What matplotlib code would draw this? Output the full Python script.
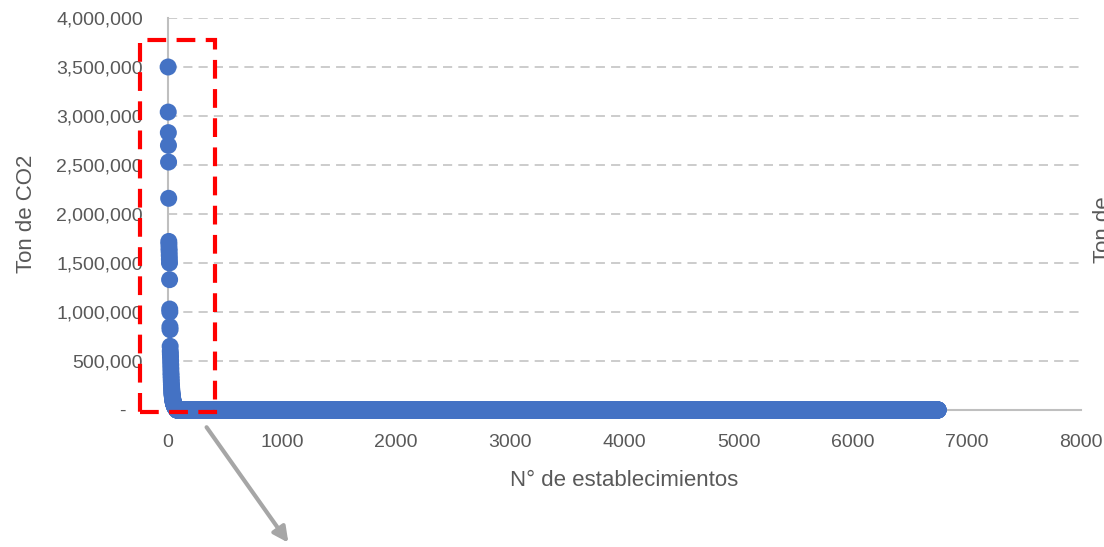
import matplotlib
matplotlib.use("Agg")
import matplotlib.pyplot as plt
from matplotlib.ticker import FuncFormatter
from matplotlib.patches import Rectangle

plt.rcParams['font.family'] = ['Liberation Sans', 'DejaVu Sans']

# emisiones (ton CO2) de los establecimientos mayores, ordenadas de mayor a menor
emisiones_top = [
    3500000, 3040000, 2830000, 2700000, 2530000, 2160000,
    1720000, 1690000, 1650000, 1620000, 1580000, 1540000, 1500000,
    1330000, 1030000, 1000000, 850000, 820000,
    650000, 600000, 570000, 540000, 500000, 460000, 420000, 380000,
    350000, 320000, 290000, 260000, 240000, 220000, 200000, 185000,
    170000, 160000, 150000, 140000, 130000, 120000, 112000, 105000,
    98000, 92000, 86000, 80000, 75000, 70000, 66000, 62000, 58000,
    55000, 52000, 49000, 46000, 43000, 40000, 38000, 36000, 34000,
    32000, 30000, 28000, 26000, 24000, 22000, 20000, 18000, 16000,
    15000, 14000, 13000, 12000, 11000, 10000,
]
# total de establecimientos; el resto se lee como ~0 en esta escala
n_establecimientos = 6750
emisiones = emisiones_top + [0] * (n_establecimientos - len(emisiones_top))
establecimiento = list(range(1, n_establecimientos + 1))

xticks = [0, 1000, 2000, 3000, 4000, 5000, 6000, 7000, 8000]
yticks = [0, 500000, 1000000, 1500000, 2000000, 2500000, 3000000, 3500000, 4000000]

gris_txt = "#595959"
gris_lin = "#BFBFBF"
azul = "#4472C4"

fig = plt.figure(figsize=(11.04, 5.47), dpi=100)
ax = fig.add_axes([0.1315, 0.2505, 0.8476, 0.7166])

for y in yticks[1:]:
    ax.plot([0, 8000], [y, y], color=gris_lin, lw=1.1, ls=(0, (6, 4)), zorder=1)

ax.scatter(establecimiento, emisiones, s=150, color=azul, edgecolors="none",
           zorder=3, clip_on=False)

ax.set_xlim(-200, 8000)
ax.set_ylim(0, 4000000)
ax.set_xticks(xticks)
ax.set_yticks(yticks)
ax.yaxis.set_major_formatter(FuncFormatter(lambda v, p: "-   " if v == 0 else f"{int(v):,}"))

for s in ["top", "right"]:
    ax.spines[s].set_visible(False)
ax.spines["left"].set_position(("data", 0))
ax.spines["left"].set_color(gris_lin)
ax.spines["left"].set_linewidth(1.5)
ax.spines["bottom"].set_bounds(0, 8000)
ax.spines["bottom"].set_color(gris_lin)
ax.spines["bottom"].set_linewidth(1.5)

ax.tick_params(axis="y", length=0, pad=18, labelsize=14, labelcolor=gris_txt)
ax.tick_params(axis="x", length=0, pad=17, labelsize=14, labelcolor=gris_txt)

ax.set_xlabel("N° de establecimientos", fontsize=16, color=gris_txt, labelpad=12)
ax.xaxis.set_label_coords(0.512, -0.152)
ax.set_ylabel("Ton de CO2", fontsize=16, color=gris_txt, labelpad=14)

# título del eje secundario, cortado en el borde derecho
fig.text(1093 / 1104, 1 - 263 / 547, "Ton de", rotation=90, fontsize=16,
         color=gris_txt, ha="left", va="bottom")

# recuadro de zoom y flecha
rect = Rectangle((-245, -20000), 657, 3796000, fill=False, edgecolor="#FF0000",
                 lw=3, ls=(0, (4.5, 2.5)), zorder=4, clip_on=False)
ax.add_patch(rect)
ax.annotate("", xy=(1069, -1378000), xytext=(324, -153000),
            arrowprops=dict(arrowstyle="-|>,head_length=0.9,head_width=0.45",
                            color="#A6A6A6", lw=3),
            annotation_clip=False)

fig.savefig("out.png", dpi=100)
